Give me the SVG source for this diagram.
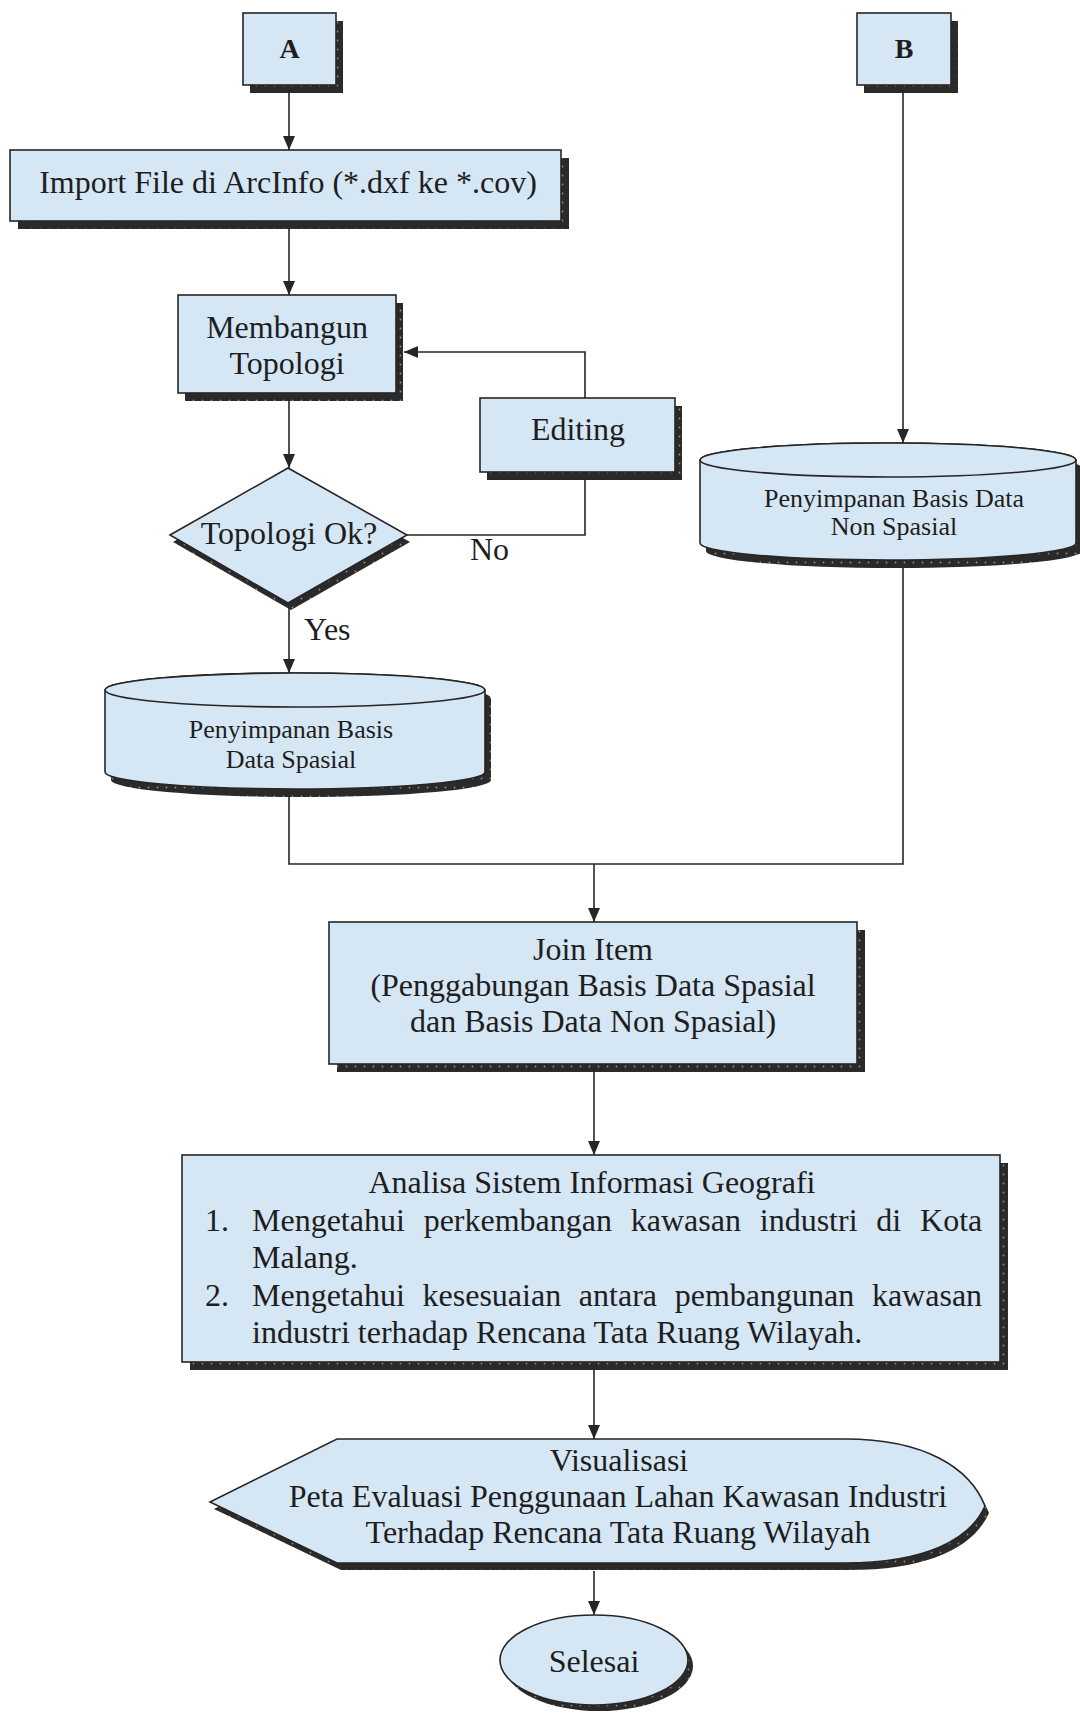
<svg xmlns="http://www.w3.org/2000/svg" width="1080" height="1722" viewBox="0 0 1080 1722">
  <style>
    .shape { fill: #d5e6f5; stroke: #262626; stroke-width: 1.6; }
    .shade { fill: url(#dots); stroke: none; }
    .lbl { font-family: "Liberation Serif", "Times New Roman", serif; font-size: 32px; fill: #1e1e1e; }
    .small { font-size: 26px; }
    .bold { font-weight: bold; font-size: 28px; }
    .mid { text-anchor: middle; }
    .wire { fill: none; stroke: #262626; stroke-width: 1.6; }
  </style>
  <defs>
    <!-- dark drop shadow with a fine light speckle -->
    <pattern id="dots" width="9" height="9" patternUnits="userSpaceOnUse">
      <rect width="9" height="9" fill="#2a2a2a"/>
      <circle cx="4.5" cy="4.5" r="0.9" fill="#8e8e8e"/>
    </pattern>
    <marker id="arrow" viewBox="0 0 14 12" refX="14" refY="6" markerWidth="14" markerHeight="12" markerUnits="userSpaceOnUse" orient="auto">
      <path d="M0,0 L14,6 L0,12 Z" fill="#262626"/>
    </marker>
  </defs>

  <rect width="1080" height="1722" fill="#ffffff"/>

  <!-- connectors -->
  <g id="connectors">
    <line class="wire" x1="289" y1="92" x2="289" y2="150" marker-end="url(#arrow)"/>
    <line class="wire" x1="289" y1="229" x2="289" y2="295" marker-end="url(#arrow)"/>
    <line class="wire" x1="289" y1="401" x2="289" y2="468" marker-end="url(#arrow)"/>
    <polyline class="wire" points="407,535 585,535 585,480"/>
    <polyline class="wire" points="585,398 585,352 404,352" marker-end="url(#arrow)"/>
    <line class="wire" x1="289" y1="608" x2="289" y2="673" marker-end="url(#arrow)"/>
    <line class="wire" x1="903" y1="92" x2="903" y2="443" marker-end="url(#arrow)"/>
    <polyline class="wire" points="289,789 289,864 903,864 903,566"/>
    <line class="wire" x1="594" y1="864" x2="594" y2="922" marker-end="url(#arrow)"/>
    <line class="wire" x1="594" y1="1072" x2="594" y2="1155" marker-end="url(#arrow)"/>
    <line class="wire" x1="594" y1="1370" x2="594" y2="1439" marker-end="url(#arrow)"/>
    <line class="wire" x1="594" y1="1571" x2="594" y2="1615" marker-end="url(#arrow)"/>
    <text class="lbl" x="470" y="560">No</text>
    <text class="lbl" x="304" y="640">Yes</text>
  </g>

  <!-- connector A -->
  <g id="node-a">
    <rect class="shade" x="250" y="21" width="93" height="72"/>
    <rect class="shape" x="243" y="13" width="93" height="72"/>
    <text class="lbl bold mid" x="289.5" y="58">A</text>
  </g>

  <!-- connector B -->
  <g id="node-b">
    <rect class="shade" x="864" y="21" width="94" height="72"/>
    <rect class="shape" x="857" y="13" width="94" height="72"/>
    <text class="lbl bold mid" x="904" y="58">B</text>
  </g>

  <g id="node-import">
    <rect class="shade" x="18" y="158" width="551" height="71"/>
    <rect class="shape" x="10" y="150" width="551" height="71"/>
    <text class="lbl mid" x="288" y="193">Import File di ArcInfo (*.dxf ke *.cov)</text>
  </g>

  <g id="node-topologi">
    <rect class="shade" x="185" y="303" width="218" height="98"/>
    <rect class="shape" x="178" y="295" width="218" height="98"/>
    <text class="lbl mid" x="287" y="338">Membangun</text>
    <text class="lbl mid" x="287" y="374">Topologi</text>
  </g>

  <g id="node-editing">
    <rect class="shade" x="487" y="406" width="195" height="74"/>
    <rect class="shape" x="480" y="398" width="195" height="74"/>
    <text class="lbl mid" x="578" y="440">Editing</text>
  </g>

  <g id="node-cek">
    <polygon class="shade" points="173,542 291,475 410,542 291,610"/>
    <polygon class="shape" points="170,535 288,468 407,535 288,603"/>
    <text class="lbl mid" x="289" y="544">Topologi Ok?</text>
  </g>

  <g id="node-spasial">
    <path class="shade" d="M111,698 A190,17 0 0 1 491,698 L491,780 A190,17 0 0 1 111,780 Z"/>
    <path class="shape" d="M105,690 A190,17 0 0 1 485,690 L485,772 A190,17 0 0 1 105,772 Z"/>
    <ellipse class="shape" cx="295" cy="690" rx="190" ry="17"/>
    <text class="lbl small mid" x="291" y="738">Penyimpanan Basis</text>
    <text class="lbl small mid" x="291" y="768">Data Spasial</text>
  </g>

  <g id="node-nonspasial">
    <path class="shade" d="M706,468 A188,17 0 0 1 1082,468 L1082,551 A188,17 0 0 1 706,551 Z"/>
    <path class="shape" d="M700,460 A188,17 0 0 1 1076,460 L1076,543 A188,17 0 0 1 700,543 Z"/>
    <ellipse class="shape" cx="888" cy="460" rx="188" ry="17"/>
    <text class="lbl small mid" x="894" y="507">Penyimpanan Basis Data</text>
    <text class="lbl small mid" x="894" y="535">Non Spasial</text>
  </g>

  <g id="node-join">
    <rect class="shade" x="337" y="930" width="528" height="142"/>
    <rect class="shape" x="329" y="922" width="528" height="142"/>
    <text class="lbl mid" x="593" y="960">Join Item</text>
    <text class="lbl mid" x="593" y="996">(Penggabungan Basis Data Spasial</text>
    <text class="lbl mid" x="593" y="1032">dan Basis Data Non Spasial)</text>
  </g>

  <g id="node-analisa">
    <rect class="shade" x="190" y="1163" width="818" height="207"/>
    <rect class="shape" x="182" y="1155" width="818" height="207"/>
    <text class="lbl mid" x="592" y="1193">Analisa Sistem Informasi Geografi</text>
    <text class="lbl" x="205" y="1231">1.</text>
    <text class="lbl" x="252" y="1231" word-spacing="10.8">Mengetahui perkembangan kawasan industri di Kota</text>
    <text class="lbl" x="252" y="1268">Malang.</text>
    <text class="lbl" x="205" y="1306">2.</text>
    <text class="lbl" x="252" y="1306" word-spacing="9.7">Mengetahui kesesuaian antara pembangunan kawasan</text>
    <text class="lbl" x="252" y="1343">industri terhadap Rencana Tata Ruang Wilayah.</text>
  </g>

  <g id="node-visualisasi">
    <path class="shade" d="M214,1509 L341,1446 L849,1446 C929,1446 974,1475 989,1513 C974,1547 929,1570 849,1570 L341,1570 Z"/>
    <path class="shape" d="M210,1502 L337,1439 L845,1439 C925,1439 970,1468 985,1506 C970,1540 925,1563 845,1563 L337,1563 Z"/>
    <text class="lbl mid" x="619" y="1471">Visualisasi</text>
    <text class="lbl mid" x="618" y="1507">Peta Evaluasi Penggunaan Lahan Kawasan Industri</text>
    <text class="lbl mid" x="618" y="1543">Terhadap Rencana Tata Ruang Wilayah</text>
  </g>

  <g id="node-selesai">
    <ellipse class="shade" cx="599" cy="1666" rx="94" ry="45"/>
    <ellipse class="shape" cx="594" cy="1660" rx="94" ry="45"/>
    <text class="lbl mid" x="594" y="1672">Selesai</text>
  </g>
</svg>
